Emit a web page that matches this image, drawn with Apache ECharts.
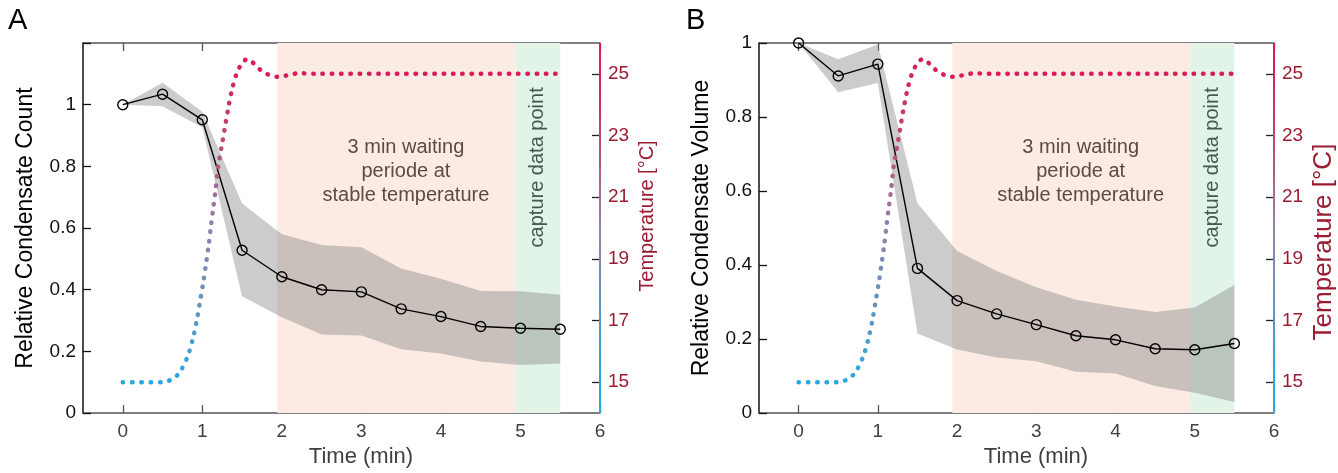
<!DOCTYPE html>
<html>
<head>
<meta charset="utf-8">
<script src="https://cdn.jsdelivr.net/npm/echarts@6/dist/echarts.min.js"></script>
<style>
  html, body { margin: 0; padding: 0; background: #fff; }
  #chart { width: 1338px; height: 473px; }
</style>
</head>
<body>
<div id="chart"></div>
<script>
// sample times (min) of the condensate measurements
const sampleTime = [0, 0.5, 1, 1.5, 2, 2.5, 3, 3.5, 4, 4.5, 5, 5.5]

// panel A: relative condensate count
const countMean = [1.0, 1.034, 0.951, 0.528, 0.442, 0.400, 0.393, 0.338, 0.313, 0.281, 0.275, 0.272]
const countUpper = [1.0, 1.071, 0.977, 0.68, 0.58, 0.545, 0.538, 0.469, 0.436, 0.396, 0.395, 0.384]
const countLower = [1.0, 0.995, 0.927, 0.379, 0.311, 0.255, 0.252, 0.207, 0.193, 0.167, 0.156, 0.161]

// panel B: relative condensate volume
const volumeMean = [1.0, 0.911, 0.943, 0.391, 0.304, 0.268, 0.239, 0.209, 0.198, 0.174, 0.171, 0.188]
const volumeUpper = [1.0, 0.956, 0.996, 0.567, 0.438, 0.384, 0.34, 0.306, 0.288, 0.273, 0.285, 0.346]
const volumeLower = [1.0, 0.867, 0.892, 0.215, 0.172, 0.150, 0.14, 0.112, 0.107, 0.073, 0.055, 0.030]

// temperature ramp
const tempTime = [0, 0.5, 0.62, 0.71, 0.81, 0.88, 0.93, 0.97, 1.01, 1.05, 1.08, 1.11, 1.14, 1.17, 1.2, 1.24, 1.28, 1.32, 1.37, 1.43, 1.5, 1.56, 1.62, 1.69, 1.77, 1.86, 1.97, 2.08, 2.22, 2.4, 5.5]
const tempValue = [15, 15, 15.1, 15.3, 15.8, 16.4, 17.0, 17.6, 18.2, 18.9, 19.45, 20.1, 20.7, 21.3, 22.0, 22.6, 23.2, 23.8, 24.45, 25.0, 25.35, 25.47, 25.4, 25.22, 25.05, 24.95, 24.9, 24.96, 25.02, 25.0, 25.0]

// shaded windows, axis ranges and tick labels
const waitWindow = [1.94, 4.94]
const captureWindow = [4.94, 5.5]
const timeRange = [-0.5, 6]
const tempRange = [14, 26]
const timeTicks = [0, 1, 2, 3, 4, 5, 6]
const tempTicks = [15, 17, 19, 21, 23, 25]

const font = "'Liberation Sans', Arial, Helvetica, sans-serif"
const tempColors = ['#29a8df', '#9582a6', '#d81d5b']
const tempLabel = '#9b1b30'

function pairs(xs, ys) {
  return xs.map((x, i) => [x, ys[i]])
}

function bottomAxis(gi) {
  return {
    type: 'value', gridIndex: gi, position: 'bottom', min: timeRange[0], max: timeRange[1],
    name: 'Time (min)', nameLocation: 'middle', nameGap: 30,
    nameTextStyle: { fontSize: 22, color: '#404040', fontFamily: font, padding: [0, 0, 0, 39] },
    axisLine: { onZero: false, lineStyle: { color: '#555', width: 1.5 } },
    axisTick: { inside: true, length: 8, customValues: timeTicks, lineStyle: { color: '#555', width: 1.3 } },
    axisLabel: { customValues: timeTicks, fontSize: 19, color: '#404040', margin: 9, fontFamily: font },
    splitLine: { show: false }
  }
}

function topAxis(gi) {
  return {
    type: 'value', gridIndex: gi, position: 'top', min: timeRange[0], max: timeRange[1],
    axisLine: { onZero: false, lineStyle: { color: '#555', width: 1.5 } },
    axisTick: { inside: true, length: 8, customValues: timeTicks, lineStyle: { color: '#555', width: 1.3 } },
    axisLabel: { show: false },
    splitLine: { show: false }
  }
}

function leftAxis(gi, name, max) {
  return {
    type: 'value', gridIndex: gi, position: 'left', min: 0, max: max, interval: 0.2,
    name: name, nameLocation: 'middle', nameGap: 46, nameRotate: 90,
    nameTextStyle: { fontSize: 23, color: '#000', fontFamily: font },
    axisLine: { show: true, onZero: false, lineStyle: { color: '#111', width: 1.5 } },
    axisTick: { show: true, inside: true, length: 8, lineStyle: { color: '#111', width: 1.3 } },
    axisLabel: {
      fontSize: 19, color: '#111', margin: 7, fontFamily: font,
      formatter: v => (v > 1.01 ? '' : String(+v.toFixed(1)))
    },
    splitLine: { show: false }
  }
}

function tempAxis(gi, size, pad) {
  return {
    type: 'value', gridIndex: gi, position: 'right', min: tempRange[0], max: tempRange[1],
    name: 'Temperature [°C]', nameLocation: 'middle', nameGap: 37, nameRotate: 90,
    nameTextStyle: { fontSize: size, color: tempLabel, fontFamily: font, padding: pad },
    // the visible spine is drawn by a custom series so it can carry the colour ramp
    axisLine: { show: true, onZero: false, lineStyle: { color: 'rgba(0,0,0,0)', width: 1 } },
    axisTick: { show: true, inside: true, length: 8, customValues: tempTicks, lineStyle: { color: '#222', width: 1.3 } },
    axisLabel: { customValues: tempTicks, fontSize: 19, color: tempLabel, margin: 8, fontFamily: font },
    splitLine: { show: false }
  }
}

// shaded spread between lower and upper bounds, drawn as one polygon
function bandRenderer(lower, upper) {
  return function (params, api) {
    if (params.dataIndex !== 0) return null
    const top = sampleTime.map((t, i) => api.coord([t, upper[i]]))
    const bottom = sampleTime.map((t, i) => api.coord([t, lower[i]])).reverse()
    return {
      type: 'polygon',
      shape: { points: top.concat(bottom) },
      style: { fill: 'rgba(128,128,128,0.4)' }
    }
  }
}

// right spine coloured along the temperature scale
function spineRenderer(params, api) {
  const lo = api.coord([api.value(0), api.value(1)])
  const hi = api.coord([api.value(0), api.value(2)])
  return {
    type: 'rect',
    shape: { x: lo[0] - 1, y: hi[1], width: 2, height: lo[1] - hi[1] },
    style: {
      fill: new echarts.graphic.LinearGradient(0, 1, 0, 0, [
        { offset: 0, color: tempColors[0] },
        { offset: 1 / 12, color: tempColors[0] },
        { offset: 0.5, color: tempColors[1] },
        { offset: 11 / 12, color: tempColors[2] },
        { offset: 1, color: tempColors[2] }
      ])
    }
  }
}

function panelSeries(xi, yi, ti, lower, upper, mean) {
  return [
    {
      type: 'custom', xAxisIndex: xi, yAxisIndex: yi, silent: true, z: 3,
      data: sampleTime.map((t, i) => [t, lower[i], upper[i]]),
      encode: { x: 0, y: [1, 2] },
      renderItem: bandRenderer(lower, upper),
      markArea: {
        silent: true, z: 1,
        data: [
          [
            {
              xAxis: waitWindow[0], itemStyle: { color: '#fcebe3' },
              label: {
                show: true, position: ['54%', '34.6%'], align: 'center', verticalAlign: 'middle',
                formatter: '3 min waiting\nperiode at\nstable temperature',
                fontSize: 20, lineHeight: 24, color: '#5a4b45', fontFamily: font
              }
            },
            { xAxis: waitWindow[1] }
          ],
          [
            {
              xAxis: captureWindow[0], itemStyle: { color: '#e2f3e8' },
              label: {
                show: true, position: ['50%', '33.6%'], align: 'center', verticalAlign: 'middle',
                rotate: 90, formatter: 'capture data point',
                fontSize: 20, color: '#435a4d', fontFamily: font
              }
            },
            { xAxis: captureWindow[1] }
          ]
        ]
      }
    },
    {
      type: 'line', xAxisIndex: xi, yAxisIndex: yi,
      data: pairs(sampleTime, mean), symbol: 'circle', symbolSize: 10, clip: false,
      itemStyle: { color: 'rgba(0,0,0,0)', borderColor: '#000', borderWidth: 1.4 },
      lineStyle: { color: '#000', width: 1.4 }, z: 4
    },
    {
      type: 'line', xAxisIndex: xi, yAxisIndex: ti,
      data: pairs(tempTime, tempValue), symbol: 'none', smooth: 0.3, clip: false,
      lineStyle: { width: 4.5, type: [0.5, 8.8], cap: 'round' }, z: 5
    },
    {
      type: 'custom', xAxisIndex: xi, yAxisIndex: ti, silent: true, clip: false, z: 6,
      data: [[timeRange[1], tempRange[0], tempRange[1]]],
      encode: { x: 0, y: [1, 2] },
      renderItem: spineRenderer
    }
  ]
}

const chart = echarts.init(document.getElementById('chart'))

chart.setOption({
  animation: false,
  backgroundColor: '#fff',
  textStyle: { fontFamily: font },
  title: [
    { text: 'A', left: 8, top: 6, padding: 0, textStyle: { fontSize: 29, fontWeight: 'normal', color: '#000', fontFamily: font } },
    { text: 'B', left: 686, top: 6, padding: 0, textStyle: { fontSize: 29, fontWeight: 'normal', color: '#000', fontFamily: font } }
  ],
  grid: [
    { left: 83, top: 43, width: 517, height: 374 },
    { left: 759, top: 43, width: 518, height: 374 }
  ],
  xAxis: [bottomAxis(0), topAxis(0), bottomAxis(1), topAxis(1)],
  yAxis: [
    leftAxis(0, 'Relative Condensate Count', 1.2),
    tempAxis(0, 20, [0, 0, 0, 24]),
    leftAxis(1, 'Relative Condensate Volume', 1),
    tempAxis(1, 26, [0, 28, 0, 0])
  ],
  visualMap: [
    { type: 'continuous', show: false, seriesIndex: 2, dimension: 1, min: 15, max: 25, inRange: { color: tempColors } },
    { type: 'continuous', show: false, seriesIndex: 6, dimension: 1, min: 15, max: 25, inRange: { color: tempColors } }
  ],
  series: [
    ...panelSeries(0, 0, 1, countLower, countUpper, countMean),
    ...panelSeries(2, 2, 3, volumeLower, volumeUpper, volumeMean)
  ]
})

window.addEventListener('resize', () => chart.resize())
</script>
</body>
</html>
